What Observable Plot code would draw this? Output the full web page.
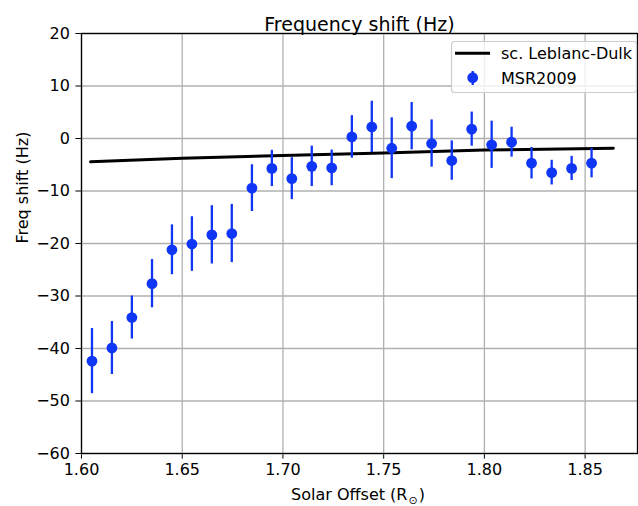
<!DOCTYPE html>
<html>
<head>
<meta charset="utf-8">
<script src="https://cdn.jsdelivr.net/npm/d3@7"></script>
<script src="https://cdn.jsdelivr.net/npm/@observablehq/plot@0.6"></script>
<style>
  html, body { margin: 0; padding: 0; background: white; }
  #chart { width: 638px; height: 506px; }
</style>
</head>
<body>
<div id="chart"></div>
<script>
// Observations (MSR2009)
const obsX = [1.6052, 1.6151, 1.6250, 1.6350, 1.6449, 1.6548, 1.6647, 1.6746, 1.6846, 1.6945,
              1.7044, 1.7143, 1.7242, 1.7342, 1.7441, 1.7540, 1.7639, 1.7738, 1.7838, 1.7937,
              1.8036, 1.8135, 1.8234, 1.8334, 1.8433, 1.8532];
const obsY = [-42.4, -39.9, -34.1, -27.65, -21.2, -20.1, -18.35, -18.1, -9.45, -5.7,
              -7.65, -5.3, -5.6, 0.3, 2.2, -1.85, 2.35, -0.96, -4.2, 1.78,
              -1.2, -0.7, -4.7, -6.5, -5.7, -4.7];
const obsErr = [6.2, 5.05, 4.1, 4.6, 4.75, 5.2, 5.55, 5.55, 4.45, 3.45,
                4.0, 3.85, 3.4, 4.05, 4.9, 5.8, 4.5, 4.5, 3.75, 3.25,
                4.5, 2.85, 3.0, 2.35, 2.3, 2.8];
// Model (sc. Leblanc-Dulk)
const modelX = [1.6045, 1.65, 1.70, 1.75, 1.80, 1.864];
const modelY = [-4.45, -3.75, -3.25, -2.75, -2.2, -1.85];
// Ticks
const xTicks = [1.60, 1.65, 1.70, 1.75, 1.80, 1.85];
const yTicks = [-60, -50, -40, -30, -20, -10, 0, 10, 20];
const seriesNames = ["sc. Leblanc-Dulk", "MSR2009"];
const titleText = "Frequency shift (Hz)";
const yLabel = "Freq shift (Hz)";

const blue = "#0f35f5";
const obs = obsX.map((x, i) => ({x, y: obsY[i], e: obsErr[i]}));
const model = modelX.map((x, i) => ({x, y: modelY[i]}));
const fmtY = d => d < 0 ? "\u2212" + Math.abs(d) : String(d);

const svg = Plot.plot({
  width: 638,
  height: 506,
  marginTop: 33,
  marginBottom: 53,
  marginLeft: 81,
  marginRight: 1,
  style: {fontFamily: "DejaVu Sans", fontSize: "16px", background: "white", color: "black", overflow: "visible"},
  x: {domain: [1.60, 1.876], ticks: xTicks, tickFormat: d => d.toFixed(2), tickSize: 5.6, tickPadding: 5, label: null},
  y: {domain: [-60, 20], ticks: yTicks, tickFormat: fmtY, tickSize: 5.6, tickPadding: 6, label: null},
  marks: [
    Plot.ruleX(xTicks, {x: d => d, stroke: "#b0b0b0", strokeWidth: 1.3}),
    Plot.ruleY(yTicks, {y: d => d, stroke: "#b0b0b0", strokeWidth: 1.3}),
    Plot.frame({stroke: "black", strokeWidth: 1.3}),
    Plot.line(model, {x: "x", y: "y", stroke: "black", strokeWidth: 3}),
    Plot.ruleX(obs, {x: "x", y1: d => d.y - d.e, y2: d => d.y + d.e, stroke: blue, strokeWidth: 2.3}),
    Plot.dot(obs, {x: "x", y: "y", r: 5.4, fill: blue, stroke: "none"}),
    Plot.text([titleText], {text: d => d, frameAnchor: "top", dy: -16, fontSize: 19}),
    Plot.text([yLabel], {text: d => d, frameAnchor: "left", dx: -59, rotate: -90, fontSize: 16})
  ]
});

const s = d3.select(svg);
// x axis label with subscript sun symbol
const xl = s.append("text")
  .attr("x", 358).attr("y", 500)
  .attr("text-anchor", "middle")
  .attr("font-size", 16)
  .attr("fill", "black");
xl.append("tspan").text("Solar Offset (R");
xl.append("tspan").attr("font-size", 11).attr("dy", 4).attr("dx", 1).text("\u2299");
xl.append("tspan").attr("dy", -4).attr("dx", 1).text(")");

// legend
const lg = s.append("g").attr("font-size", 16).attr("fill", "black").attr("text-anchor", "start");
lg.append("rect").attr("x", 451.5).attr("y", 41.5).attr("width", 185).attr("height", 51)
  .attr("rx", 3).attr("fill", "white").attr("fill-opacity", 0.8).attr("stroke", "#cccccc").attr("stroke-width", 1.2);
lg.append("line").attr("x1", 455).attr("x2", 490).attr("y1", 53.3).attr("y2", 53.3)
  .attr("stroke", "black").attr("stroke-width", 3);
lg.append("text").attr("x", 501).attr("y", 59).attr("text-anchor", "start").text(seriesNames[0]);
lg.append("line").attr("x1", 472.7).attr("x2", 472.7).attr("y1", 71).attr("y2", 85)
  .attr("stroke", blue).attr("stroke-width", 2.3);
lg.append("circle").attr("cx", 472.7).attr("cy", 77.7).attr("r", 5.4).attr("fill", blue);
lg.append("text").attr("x", 501).attr("y", 83.5).attr("text-anchor", "start").text(seriesNames[1]);

document.getElementById("chart").appendChild(svg);
</script>
</body>
</html>
